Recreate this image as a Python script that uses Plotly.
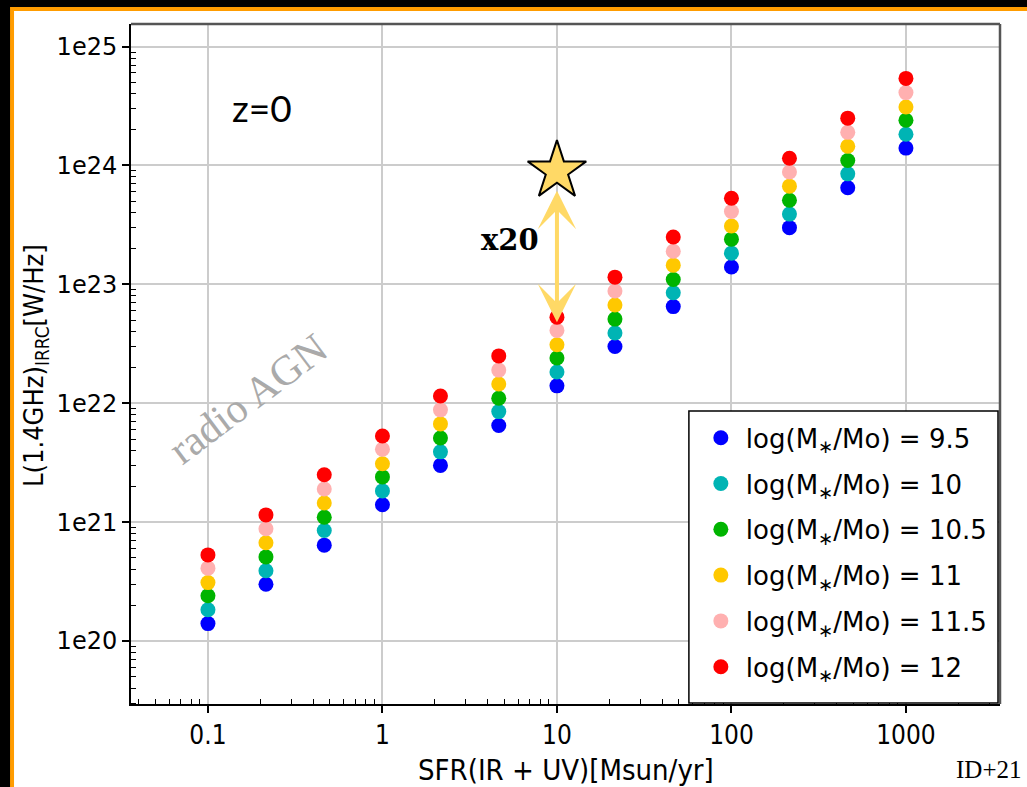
import math
import plotly.graph_objects as go

# Star-formation rate grid [Msun/yr]
sfr = [0.1, 0.215, 0.464, 1.0, 2.15, 4.64, 10.0, 21.5, 46.4, 100.0, 215.0, 464.0, 1000.0]

# Radio luminosity from the IR-radio correlation, one series per stellar mass
mass_labels = ["9.5", "10", "10.5", "11", "11.5", "12"]
lum_m95 = [1.4e20, 3.0e20, 6.4e20, 1.4e21, 3.0e21, 6.5e21, 1.4e22, 3.0e22, 6.5e22, 1.4e23, 3.0e23, 6.5e23, 1.4e24]
lum_m100 = [1.83e20, 3.9e20, 8.5e20, 1.83e21, 3.9e21, 8.5e21, 1.83e22, 3.9e22, 8.5e22, 1.83e23, 3.9e23, 8.5e23, 1.83e24]
lum_m105 = [2.4e20, 5.1e20, 1.1e21, 2.4e21, 5.1e21, 1.1e22, 2.4e22, 5.1e22, 1.1e23, 2.4e23, 5.1e23, 1.1e24, 2.4e24]
lum_m110 = [3.1e20, 6.7e20, 1.45e21, 3.1e21, 6.7e21, 1.45e22, 3.1e22, 6.7e22, 1.45e23, 3.1e23, 6.7e23, 1.45e24, 3.1e24]
lum_m115 = [4.1e20, 8.8e20, 1.9e21, 4.1e21, 8.8e21, 1.9e22, 4.1e22, 8.8e22, 1.9e23, 4.1e23, 8.8e23, 1.9e24, 4.1e24]
lum_m120 = [5.3e20, 1.15e21, 2.5e21, 5.3e21, 1.15e22, 2.5e22, 5.3e22, 1.15e23, 2.5e23, 5.3e23, 1.15e24, 2.5e24, 5.4e24]
series_lum = [lum_m95, lum_m100, lum_m105, lum_m110, lum_m115, lum_m120]
series_colors = ["#0000ff", "#00b4b4", "#00b400", "#ffc800", "#ffb0b0", "#ff0000"]

# Radio-AGN example source and the arrow down to the star-forming value
star_sfr = 10.0
star_lum = 9.0e23
arrow_top_lum = 6.3e23
arrow_bottom_lum = 4.8e22

x_ticks = [0.1, 1, 10, 100, 1000]
x_ticktext = ["0.1", "1", "10", "100", "1000"]
y_ticks = [1e20, 1e21, 1e22, 1e23, 1e24, 1e25]
y_ticktext = ["1e20", "1e21", "1e22", "1e23", "1e24", "1e25"]

# Minor ticks at 2..9 within each decade
x_minor = [m * 10.0 ** e for e in range(-2, 4) for m in range(2, 10)]
y_minor = [m * 10.0 ** e for e in range(19, 26) for m in range(2, 10)]

ORANGE = "#ff9c00"
GOLD = "#ffd966"
SANS = "DejaVu Sans Condensed, DejaVu Sans, sans-serif"

fig = go.Figure()

for label, lum, color in zip(mass_labels, series_lum, series_colors):
    fig.add_trace(go.Scatter(
        x=sfr, y=lum, mode="markers",
        name=f"log(M<sub>∗</sub>/Mo)\u00a0=\u00a0{label}",
        legendgroup=label,
        marker=dict(size=15, color=color, line=dict(width=0)),
    ))

fig.add_trace(go.Scatter(
    x=[star_sfr], y=[star_lum], mode="markers", showlegend=False,
    marker=dict(symbol="star", size=44, color=GOLD, line=dict(color="black", width=2)),
))

fig.add_annotation(
    x=math.log10(star_sfr), y=math.log10(arrow_bottom_lum),
    ax=math.log10(star_sfr), ay=math.log10(arrow_top_lum),
    xref="x", yref="y", axref="x", ayref="y", text="",
    showarrow=True, arrowhead=3, startarrowhead=3, arrowside="end+start",
    arrowsize=1.6, startarrowsize=1.6, arrowwidth=4, arrowcolor=GOLD,
    standoff=0, startstandoff=0,
)

texts = [
    dict(x=0.1507, y=0.8765, text="z=0", font=dict(family="Lato, sans-serif", size=37, color="black")),
    dict(x=0.436, y=0.682, text="<b>x20</b>", font=dict(family="DejaVu Serif, serif", size=29, color="black")),
    dict(x=0.134, y=0.449, text="radio AGN", textangle=-37,
         font=dict(family="Liberation Serif, serif", size=42, color="#aaaaaa")),
    dict(x=0.987, y=-0.097, text="ID+21", font=dict(family="Liberation Serif, serif", size=25, color="black")),
    dict(x=0.5006, y=-0.097, text="SFR(IR + UV)[Msun/yr]", font=dict(family=SANS, size=29, color="black")),
    dict(x=-0.1105, y=0.4985, text="L(1.4GHz)<sub>IRRC</sub>[W/Hz]", textangle=-90,
         font=dict(family=SANS, size=27, color="black")),
]
for t in texts:
    fig.add_annotation(xref="paper", yref="paper", showarrow=False,
                       xanchor="center", yanchor="middle", **t)

# Framed panel: orange border over a black page, white plotting sheet
fig.add_shape(type="rect", xref="paper", yref="paper", x0=-0.1392, x1=1.2, y0=-0.3, y1=1.025,
              fillcolor=ORANGE, line=dict(width=0), layer="below")
fig.add_shape(type="rect", xref="paper", yref="paper", x0=-0.1346, x1=1.2, y0=-0.3, y1=1.019,
              fillcolor="white", line=dict(width=0), layer="below")
# Grey top and right frame edges
fig.add_shape(type="line", xref="paper", yref="paper", x0=0, x1=1, y0=1, y1=1,
              line=dict(color="#555555", width=2.5))
fig.add_shape(type="line", xref="paper", yref="paper", x0=1, x1=1, y0=0, y1=1,
              line=dict(color="#555555", width=2.5))
# Legend frame box (legend itself is drawn transparent on top)
fig.add_shape(type="rect", xref="paper", yref="paper", x0=0.642, x1=0.9977, y0=0.0015, y1=0.431,
              fillcolor="white", line=dict(color="black", width=1.5), layer="above")

axis_common = dict(
    type="log", showgrid=True, gridcolor="#cccccc", gridwidth=1.5, zeroline=False,
    showline=True, linecolor="black", linewidth=2,
    ticks="outside", ticklen=7, tickwidth=1.5, tickcolor="black",
)

fig.update_xaxes(range=[-1.441, 3.539], tickvals=x_ticks, ticktext=x_ticktext,
                 tickfont=dict(family=SANS, size=26, color="black"),
                 minor=dict(tickvals=x_minor, ticks="inside", ticklen=5, tickwidth=1.2,
                            tickcolor="black", showgrid=False),
                 **axis_common)
fig.update_yaxes(range=[19.47, 25.19], tickvals=y_ticks, ticktext=y_ticktext,
                 tickfont=dict(family="DejaVu Sans, sans-serif", size=24, color="black"),
                 minor=dict(tickvals=y_minor, ticks="inside", ticklen=5, tickwidth=1.2,
                            tickcolor="black", showgrid=False),
                 **axis_common)

fig.update_layout(
    width=1027, height=787,
    margin=dict(l=131, r=27, t=24, b=83),
    paper_bgcolor="black", plot_bgcolor="white",
    legend=dict(
        x=0.650, y=0.426, xanchor="left", yanchor="top",
        bgcolor="rgba(0,0,0,0)", borderwidth=0,
        font=dict(family="DejaVu Sans, sans-serif", size=26, color="black"),
        tracegroupgap=9, itemsizing="trace", itemwidth=40,
    ),
)

fig.write_html("out.html")
